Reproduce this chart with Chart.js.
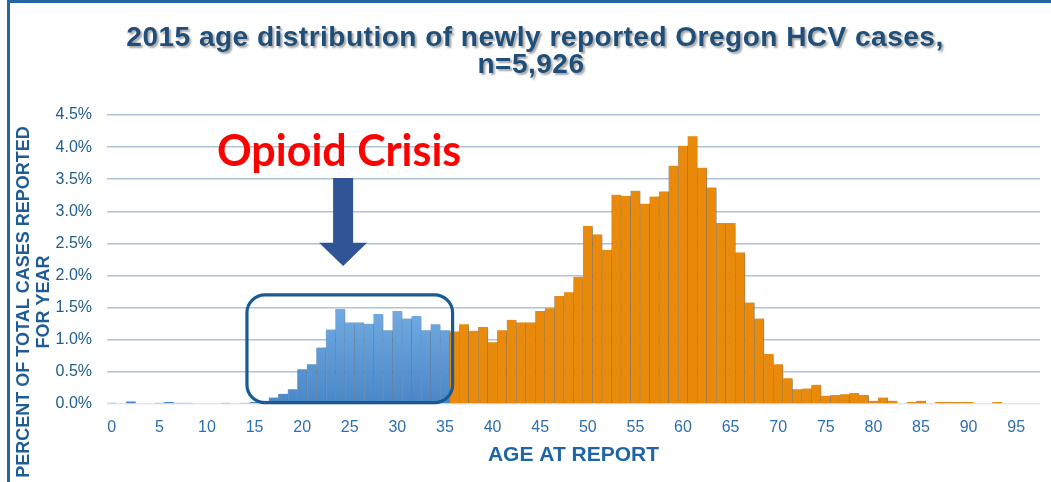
<!DOCTYPE html>
<html>
<head>
<meta charset="utf-8">
<title>2015 age distribution of newly reported Oregon HCV cases</title>
<script src="https://cdn.jsdelivr.net/npm/chart.js@4/dist/chart.umd.min.js"></script>
<style>
  html, body { margin: 0; padding: 0; background: #ffffff; }
  canvas { display: block; }
</style>
</head>
<body>
<canvas id="chart" width="1051" height="482"></canvas>
<script>
// Age at report (years), one bar per age
const ages = [
   0,  1,  2,  3,  4,  5,  6,  7,  8,  9, 10, 11, 12, 13, 14, 15, 16, 17, 18, 19,
  20, 21, 22, 23, 24, 25, 26, 27, 28, 29, 30, 31, 32, 33, 34, 35, 36, 37, 38, 39,
  40, 41, 42, 43, 44, 45, 46, 47, 48, 49, 50, 51, 52, 53, 54, 55, 56, 57, 58, 59,
  60, 61, 62, 63, 64, 65, 66, 67, 68, 69, 70, 71, 72, 73, 74, 75, 76, 77, 78, 79,
  80, 81, 82, 83, 84, 85, 86, 87, 88, 89, 90, 91, 92, 93, 94, 95, 96, 97
];

// Percent of all 2015 cases (n = 5,926) reported at each age
const percentOfCases = [
  0.02, 0.00, 0.04, 0.00, 0.00, 0.02, 0.03, 0.02, 0.02, 0.00,
  0.00, 0.00, 0.02, 0.00, 0.02, 0.03, 0.05, 0.10, 0.16, 0.23,
  0.54, 0.62, 0.88, 1.16, 1.48, 1.27, 1.27, 1.25, 1.40, 1.15,
  1.45, 1.33, 1.37, 1.15, 1.24, 1.15, 1.13, 1.24, 1.14, 1.20,
  0.96, 1.15, 1.31, 1.27, 1.27, 1.45, 1.49, 1.68, 1.74, 1.98,
  2.77, 2.64, 2.40, 3.26, 3.24, 3.32, 3.12, 3.23, 3.31, 3.71,
  4.02, 4.17, 3.68, 3.37, 2.82, 2.82, 2.36, 1.58, 1.33, 0.78,
  0.62, 0.40, 0.23, 0.24, 0.30, 0.13, 0.14, 0.15, 0.17, 0.14,
  0.05, 0.10, 0.05, 0.00, 0.03, 0.05, 0.00, 0.03, 0.03, 0.03,
  0.03, 0.00, 0.00, 0.03, 0.00, 0.00, 0.00, 0.00
];

// Ages up to this one belong to the highlighted opioid-era group
const opioidMaxAge = 35;

const xTickLabels = ['0', '5', '10', '15', '20', '25', '30', '35', '40', '45',
                     '50', '55', '60', '65', '70', '75', '80', '85', '90', '95'];
const yTickLabels = ['0.0%', '0.5%', '1.0%', '1.5%', '2.0%', '2.5%',
                     '3.0%', '3.5%', '4.0%', '4.5%'];

const titleLines = ['2015 age distribution of newly reported Oregon HCV cases,', 'n=5,926'];
const yTitleLines = ['PERCENT OF TOTAL CASES REPORTED', 'FOR YEAR'];
const xTitle = 'AGE AT REPORT';
const calloutText = 'Opioid Crisis';

const FONT = "'Liberation Sans', Arial, sans-serif";
const ORANGE = '#EA8A0B';

function blueFill(context) {
  const area = context.chart.chartArea;
  if (!area) return '#5B9BD5';
  const y = context.chart.scales.y;
  const g = context.chart.ctx.createLinearGradient(0, y.getPixelForValue(1.6), 0, y.getPixelForValue(0));
  g.addColorStop(0, '#74AEE5');
  g.addColorStop(1, '#4A87C8');
  return g;
}

// Soft drop shadow behind the bars
const barShadow = {
  id: 'barShadow',
  beforeDatasetsDraw(chart) {
    const ctx = chart.ctx;
    ctx.save();
    ctx.shadowColor = 'rgba(0,0,0,0.28)';
    ctx.shadowBlur = 3;
    ctx.shadowOffsetX = 2;
    ctx.shadowOffsetY = 1;
  },
  afterDatasetsDraw(chart) {
    chart.ctx.restore();
  }
};

// Slide frame, title, vertical axis title and the opioid callout
const decorations = {
  id: 'decorations',
  afterDraw(chart) {
    const ctx = chart.ctx;
    const xs = chart.scales.x;
    const ys = chart.scales.y;

    // frame lines along the top and left edges
    ctx.save();
    ctx.fillStyle = '#2465A3';
    ctx.fillRect(7, 0, 1044, 3);
    ctx.fillRect(7, 0, 3, 482);
    ctx.restore();

    // title with a light shadow
    ctx.save();
    ctx.font = 'bold 28px ' + FONT;
    ctx.fillStyle = '#1F4E79';
    ctx.textAlign = 'center';
    ctx.textBaseline = 'middle';
    ctx.letterSpacing = '0.5px';
    ctx.shadowColor = 'rgba(0,0,0,0.35)';
    ctx.shadowOffsetX = 2;
    ctx.shadowOffsetY = 2;
    ctx.shadowBlur = 2;
    ctx.fillText(titleLines[0], 535, 38);
    ctx.fillText(titleLines[1], 531, 65);
    ctx.restore();

    // vertical axis title (two lines)
    ctx.save();
    ctx.font = 'bold 18px ' + FONT;
    ctx.fillStyle = '#1F5C96';
    ctx.textAlign = 'center';
    ctx.textBaseline = 'middle';
    ctx.translate(24, 302);
    ctx.rotate(-Math.PI / 2);
    ctx.fillText(yTitleLines[0], 0, 0);
    ctx.fillText(yTitleLines[1], 0, 20);
    ctx.restore();

    // rounded box around the opioid-era ages
    const bx0 = xs.getPixelForValue(14.2);
    const bx1 = xs.getPixelForValue(35.8);
    const by0 = ys.getPixelForValue(1.70);
    const by1 = ys.getPixelForValue(0.02);
    ctx.save();
    ctx.strokeStyle = '#1A5A92';
    ctx.lineWidth = 3.2;
    ctx.beginPath();
    ctx.roundRect(bx0, by0, bx1 - bx0, by1 - by0, 18);
    ctx.stroke();
    ctx.restore();

    // downward arrow
    const ax = xs.getPixelForValue(24.3);
    const shaftTop = ys.getPixelForValue(3.52);
    const headTop = ys.getPixelForValue(2.51);
    const tip = ys.getPixelForValue(2.15);
    ctx.save();
    ctx.fillStyle = '#2F5597';
    ctx.beginPath();
    ctx.moveTo(ax - 10, shaftTop);
    ctx.lineTo(ax + 10, shaftTop);
    ctx.lineTo(ax + 10, headTop);
    ctx.lineTo(ax + 24, headTop);
    ctx.lineTo(ax, tip);
    ctx.lineTo(ax - 24, headTop);
    ctx.lineTo(ax - 10, headTop);
    ctx.closePath();
    ctx.fill();
    ctx.restore();

    // callout text
    ctx.save();
    ctx.font = "bold 43px Lato, 'Open Sans', sans-serif";
    ctx.fillStyle = '#FF0000';
    ctx.textAlign = 'center';
    ctx.textBaseline = 'alphabetic';
    ctx.fillText(calloutText, ax - 4, 166);
    ctx.restore();
  }
};

new Chart(document.getElementById('chart'), {
  type: 'bar',
  data: {
    labels: ages.map(String),
    datasets: [{
      label: 'Percent of total cases',
      data: percentOfCases,
      backgroundColor: (c) => (ages[c.dataIndex] <= opioidMaxAge ? blueFill(c) : ORANGE),
      borderColor: (c) => (ages[c.dataIndex] <= opioidMaxAge ? 'rgba(70,100,140,0.55)' : 'rgba(120,100,80,0.6)'),
      borderWidth: { top: 0, bottom: 0, left: 0.6, right: 0.6 },
      borderSkipped: false,
      barPercentage: 1,
      categoryPercentage: 1
    }]
  },
  options: {
    responsive: false,
    animation: false,
    devicePixelRatio: 1,
    layout: { padding: { top: 115, right: 11, left: 0, bottom: 0 } },
    plugins: {
      legend: { display: false },
      tooltip: { enabled: false },
      title: { display: false }
    },
    scales: {
      x: {
        type: 'category',
        afterFit: (s) => { s.height = 78; },
        grid: { display: false, drawTicks: false },
        border: { display: false },
        ticks: {
          autoSkip: false,
          maxRotation: 0,
          minRotation: 0,
          padding: 14,
          color: '#2E6FAF',
          font: { family: FONT, size: 16 },
          callback: function (value) {
            const lab = this.getLabelForValue(value);
            return xTickLabels.includes(lab) ? lab : '';
          }
        },
        title: {
          display: true,
          text: xTitle,
          color: '#1F65A6',
          font: { family: FONT, size: 21, weight: 'bold' },
          padding: { top: 0, bottom: 14 }
        }
      },
      y: {
        min: 0,
        max: 4.5,
        afterFit: (s) => { s.width = 107; },
        border: { display: false },
        grid: {
          drawTicks: false,
          lineWidth: 1.5,
          color: (c) => (c.tick && c.tick.value === 0 ? '#E3E7EC' : '#AFC3D8')
        },
        ticks: {
          stepSize: 0.5,
          padding: 15,
          color: '#1F5C8F',
          font: { family: FONT, size: 16 },
          callback: (v, i) => yTickLabels[i]
        }
      }
    }
  },
  plugins: [barShadow, decorations]
});
</script>
</body>
</html>
